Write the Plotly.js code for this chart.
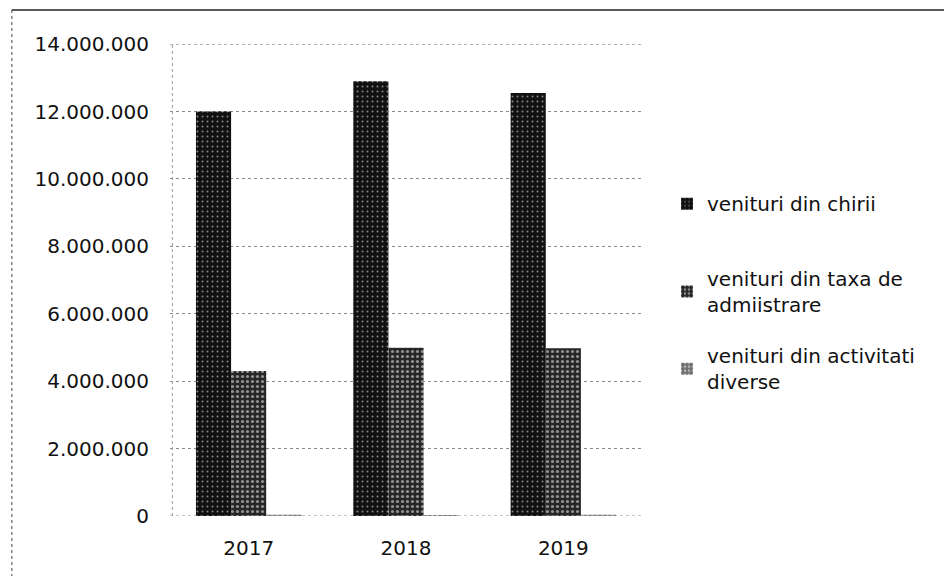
<!DOCTYPE html>
<html>
<head>
<meta charset="utf-8">
<script src="https://cdn.plot.ly/plotly-3.0.1.min.js"></script>
<style>html,body{margin:0;padding:0;background:#fff;}#chart{width:944px;height:576px;}</style>
</head>
<body>
<div id="chart"></div>
<script>
const years = ['2017', '2018', '2019'];
const seriesNames = ['venituri din chirii', 'venituri din taxa de<br>admiistrare', 'venituri din activitati<br>diverse'];
const chirii = [12000000, 12900000, 12550000];
const taxa = [4300000, 4990000, 4980000];
const diverse = [40000, 30000, 40000];
const tickVals = [0, 2000000, 4000000, 6000000, 8000000, 10000000, 12000000, 14000000];
const tickText = ['0', '2.000.000', '4.000.000', '6.000.000', '8.000.000', '10.000.000', '12.000.000', '14.000.000'];

const fills = ['#111111', '#262626', '#6e6e6e'];
const solid = [0.12, 0.3, 0.35];
const legendIds = ['legend', 'legend2', 'legend3'];
const values = [chirii, taxa, diverse];
const traces = values.map((v, i) => ({
  type: 'bar',
  name: seriesNames[i],
  x: years,
  y: v,
  legend: legendIds[i],
  showlegend: true,
  marker: {
    color: fills[i],
    line: {width: 0},
    pattern: {shape: '.', fgcolor: '#ffffff', bgcolor: fills[i], size: 5, solidity: solid[i], fillmode: 'overlay'}
  }
}));

const legFont = {family: 'DejaVu Sans, sans-serif', size: 20, color: '#111'};
const legBase = {x: 1.053, xanchor: 'left', yanchor: 'top', font: legFont, itemwidth: 30, bgcolor: 'rgba(0,0,0,0)'};

const layout = {
  width: 944, height: 576,
  showlegend: true,
  paper_bgcolor: '#fff', plot_bgcolor: '#fff',
  margin: {l: 170, r: 302, t: 44, b: 60, autoexpand: false},
  barmode: 'group', bargap: 0.33, bargroupgap: 0,
  font: {family: 'DejaVu Sans, sans-serif', color: '#111'},
  xaxis: {
    type: 'category', showgrid: false, zeroline: false,
    showline: false, ticks: '', ticklabelstandoff: 18,
    tickfont: {size: 20, color: '#111'}
  },
  yaxis: {
    range: [0, 14005000], tickvals: tickVals, ticktext: tickText,
    showgrid: true, gridcolor: '#8a8a8a', griddash: 'dot', gridwidth: 1,
    zeroline: false, showline: false, ticks: '', ticklabelstandoff: 20,
    tickfont: {size: 20, color: '#111'}
  },
  legend: Object.assign({}, legBase, {y: 0.703}),
  legend2: Object.assign({}, legBase, {y: 0.5445}),
  legend3: Object.assign({}, legBase, {y: 0.381}),
  shapes: [
    {type: 'line', xref: 'paper', yref: 'paper', x0: -0.335, x1: 1.64, y0: 1.072, y1: 1.072, line: {color: '#222', width: 1.5}},
    {type: 'line', xref: 'paper', yref: 'paper', x0: -0.335, x1: -0.335, y0: 1.072, y1: -0.13, line: {color: '#444', width: 1, dash: 'dot'}},
    {type: 'line', xref: 'paper', yref: 'paper', x0: 0.005, x1: 0.005, y0: 0, y1: 1, line: {color: '#999', width: 1, dash: 'dot'}},
    {type: 'line', xref: 'paper', yref: 'y', x0: 0, x1: 1, y0: 14000000, y1: 14000000, line: {color: '#8a8a8a', width: 1, dash: 'dot'}},
    {type: 'line', xref: 'paper', yref: 'y', x0: 0, x1: 1, y0: 0, y1: 0, line: {color: '#8a8a8a', width: 1, dash: 'dot'}}
  ]
};

Plotly.newPlot('chart', traces, layout, {displayModeBar: false, staticPlot: true});
</script>
</body>
</html>
